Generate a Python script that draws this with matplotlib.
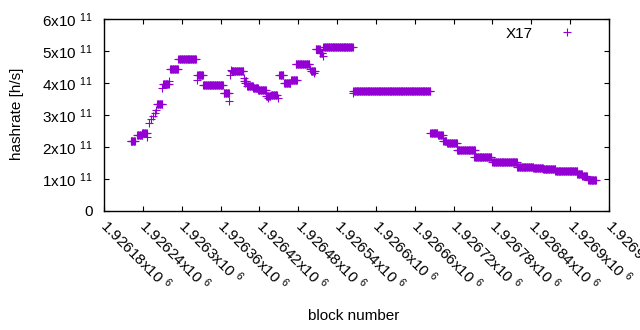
import numpy as np
import matplotlib
matplotlib.use("Agg")
import matplotlib.pyplot as plt
from matplotlib.ticker import FixedLocator
from matplotlib.transforms import ScaledTranslation

plt.rcParams['font.family'] = ['Liberation Sans', 'DejaVu Sans']
plt.rcParams['mathtext.fontset'] = 'custom'
plt.rcParams['mathtext.rm'] = 'Liberation Sans'
plt.rcParams['mathtext.it'] = 'Liberation Sans:italic'

# runs of blocks with a constant hashrate (first block, last block, hashrate in 1e11 h/s)
run_first = [1926221, 1926231, 1926239, 1926247, 1926250, 1926253, 1926255, 1926259,
             1926261, 1926262, 1926270, 1926271, 1926281, 1926282, 1926295, 1926323,
             1926324, 1926333, 1926365, 1926373, 1926375, 1926376, 1926377, 1926396,
             1926397, 1926398, 1926401, 1926410, 1926418, 1926430, 1926433, 1926438,
             1926449, 1926451, 1926458, 1926469, 1926476, 1926498, 1926500, 1926504,
             1926507, 1926513, 1926518, 1926519, 1926564, 1926565, 1926684, 1926696,
             1926704, 1926710, 1926725, 1926752, 1926780, 1926818, 1926843, 1926858,
             1926877, 1926911, 1926919, 1926928]
run_last = [1926228, 1926239, 1926246, 1926247, 1926250, 1926253, 1926255, 1926259,
            1926261, 1926270, 1926270, 1926280, 1926281, 1926294, 1926322, 1926323,
            1926333, 1926364, 1926373, 1926373, 1926375, 1926376, 1926395, 1926396,
            1926400, 1926398, 1926410, 1926418, 1926430, 1926437, 1926433, 1926447,
            1926449, 1926457, 1926468, 1926478, 1926497, 1926498, 1926506, 1926504,
            1926513, 1926517, 1926518, 1926564, 1926564, 1926684, 1926695, 1926703,
            1926709, 1926725, 1926753, 1926778, 1926818, 1926843, 1926858, 1926877,
            1926911, 1926918, 1926926, 1926940]
run_hashrate = [2.18, 2.38, 2.43, 2.31, 2.75, 2.88, 2.97, 3.06,
                3.16, 3.35, 3.84, 3.98, 4.07, 4.43, 4.74, 4.09,
                4.25, 3.93, 3.70, 3.43, 4.25, 4.42, 4.37, 4.16,
                4.05, 4.00, 3.90, 3.84, 3.78, 3.58, 3.53, 3.63,
                3.53, 4.25, 3.99, 4.09, 4.59, 4.45, 4.36, 4.30,
                5.05, 4.94, 4.84, 5.11, 3.70, 3.74, 2.44, 2.37,
                2.19, 2.12, 1.91, 1.68, 1.52, 1.39, 1.33, 1.31,
                1.24, 1.16, 1.10, 0.96]

x_ticks = [1926180 + 60 * k for k in range(14)]
x_tick_labels = ['1.92618', '1.92624', '1.9263', '1.92636', '1.92642', '1.92648', '1.92654',
                 '1.9266', '1.92666', '1.92672', '1.92678', '1.92684', '1.9269', '1.92696']
y_ticks = [0, 1e11, 2e11, 3e11, 4e11, 5e11, 6e11]
y_tick_labels = ['0'] + [r'%dx10$^{\ \,11}$' % k for k in range(1, 7)]

blocks = []
hashrate = []
for first, last, h in zip(run_first, run_last, run_hashrate):
    b = np.arange(first, last + 1)
    blocks.append(b)
    hashrate.append(np.full(len(b), h * 1e11))
blocks = np.concatenate(blocks)
hashrate = np.concatenate(hashrate)

fig = plt.figure(figsize=(6.4, 3.3), dpi=100)
ax = fig.add_axes([104 / 640, 119 / 330, 505 / 640, 192 / 330])

ax.plot(blocks, hashrate, linestyle='none', marker='+', color='#9400D3',
        markersize=5.2, markeredgewidth=0.8, label='X17')

ax.set_xlim(1926180, 1926960)
ax.set_ylim(0, 6e11)

ax.xaxis.set_major_locator(FixedLocator(x_ticks))
ax.set_xticklabels([l + r'x10$^{\ \,6}$' for l in x_tick_labels], rotation=-45,
                   ha='left', va='center', rotation_mode='anchor', fontsize=11)
shift = ScaledTranslation(11 / 100, 0, fig.dpi_scale_trans)
for lab in ax.get_xticklabels():
    lab.set_transform(lab.get_transform() + shift)
ax.yaxis.set_major_locator(FixedLocator(y_ticks))
ax.set_yticklabels(y_tick_labels, fontsize=11)

ax.tick_params(direction='in', top=True, right=True, length=3.5, width=0.8)
ax.tick_params(axis='y', pad=8)
ax.tick_params(axis='x', pad=8.5)
for s in ax.spines.values():
    s.set_linewidth(1.0)

ax.set_ylabel('hashrate [h/s]', fontsize=11)
ax.yaxis.set_label_coords(-0.158, 0.505)
ax.set_xlabel('block number', fontsize=11)
ax.xaxis.set_label_coords(0.494, -0.51)

ax.legend(loc='upper right', frameon=False, markerfirst=False, numpoints=1,
          handlelength=4.5, handletextpad=0.0, borderaxespad=0.25, borderpad=0.25,
          fontsize=11)

fig.savefig('out.png', dpi=100)
